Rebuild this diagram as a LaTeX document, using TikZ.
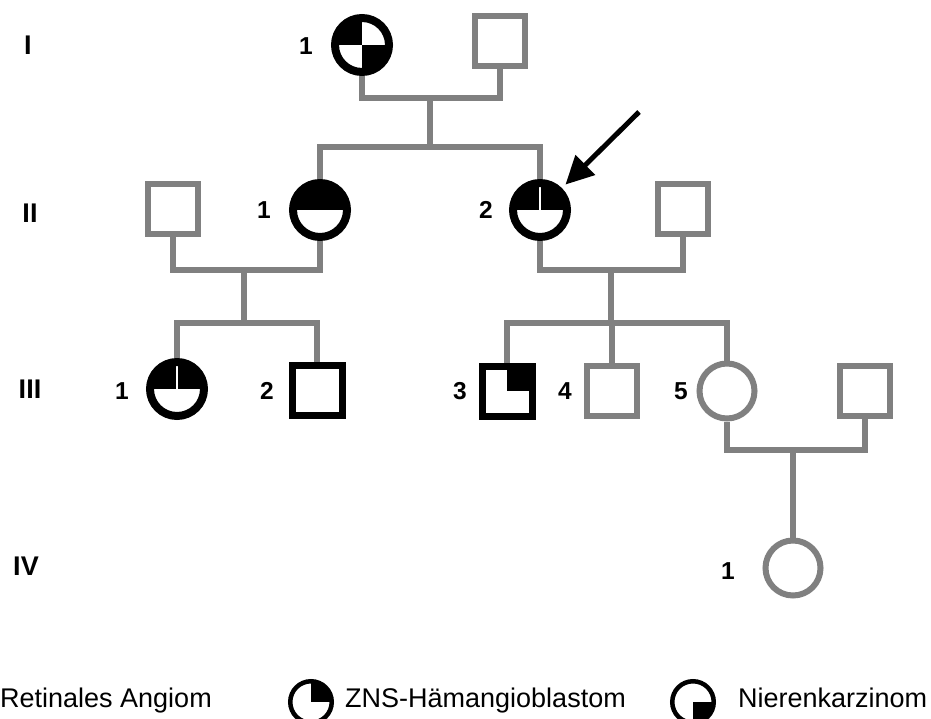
\documentclass[tikz,border=0pt]{standalone}
\usepackage{fontspec}
\setmainfont{Liberation Sans}
\usetikzlibrary{arrows.meta}
\definecolor{lgray}{RGB}{128,128,128}
\begin{document}
\begin{tikzpicture}[x=1pt,y=-1pt,
  conn/.style={draw=lgray, line width=6pt},
  gsq/.style={rectangle, draw=lgray, line width=6pt, minimum size=50pt, inner sep=0pt},
  gci/.style={circle, draw=lgray, line width=6pt, minimum size=55pt, inner sep=0pt},
  bsq/.style={rectangle, draw=black, line width=7pt, minimum size=50pt, inner sep=0pt},
  bci/.style={circle, draw=black, line width=8pt, minimum size=54pt, inner sep=0pt},
  lci/.style={circle, draw=black, line width=4.5pt, minimum size=41.5pt, inner sep=0pt},
  qtlbr/.style={path picture={
     \fill[black] (path picture bounding box.north west) rectangle (path picture bounding box.center);
     \fill[black] (path picture bounding box.center) rectangle (path picture bounding box.south east);}},
  qtop/.style={path picture={
     \fill[black] (path picture bounding box.north west) rectangle (path picture bounding box.east);}},
  qtopline/.style={path picture={
     \fill[black] (path picture bounding box.north west) rectangle (path picture bounding box.east);
     \draw[white, line width=1.2pt] (path picture bounding box.center) -- (path picture bounding box.north);}},
  qtr/.style={path picture={
     \fill[black] (path picture bounding box.north east) rectangle (path picture bounding box.center);}},
  qbr/.style={path picture={
     \fill[black] (path picture bounding box.center) rectangle (path picture bounding box.south east);}},
  gen/.style={font=\bfseries\fontsize{27}{27}\selectfont, inner sep=0pt},
  num/.style={font=\bfseries\fontsize{24.5}{24.5}\selectfont, inner sep=0pt},
  legtxt/.style={font=\fontsize{27}{27}\selectfont, inner sep=0pt},
  proband/.style={draw=black, line width=5pt, -{Triangle[length=28pt,width=27pt]}, shorten >=5pt}
]
\useasboundingbox (0,0) rectangle (931,719);
\clip (0,0) rectangle (931,719);

% generation labels
\node[gen] (gI) at (28,45) {I};
\node[gen] (gII) at (30,213) {II};
\node[gen] (gIII) at (30,389) {III};
\node[gen] (gIV) at (26,566) {IV};

% generation I
\node[bci, qtlbr] (i1) at (362,45) {};
\node[gsq] (i2) at (500,41) {};
\node[num] (n-i1) at (306,46) {1};

% generation II
\node[gsq] (ii0) at (173,209) {};
\node[bci, qtop] (ii1) at (320,210) {};
\node[bci, qtopline] (ii2) at (540,210) {};
\node[gsq] (ii3) at (683,209) {};
\node[num] (n-ii1) at (264,210) {1};
\node[num] (n-ii2) at (486,210) {2};

% generation III
\node[bci, qtopline] (iii1) at (177,389) {};
\node[bsq] (iii2) at (317,390) {};
\node[bsq, qtr] (iii3) at (507,391) {};
\node[gsq] (iii4) at (612,391) {};
\node[gci] (iii5) at (727,391) {};
\node[gsq] (iii6) at (865,391) {};
\node[num] (n-iii1) at (122,391) {1};
\node[num] (n-iii2) at (267,391) {2};
\node[num] (n-iii3) at (460,391) {3};
\node[num] (n-iii4) at (565,391) {4};
\node[num] (n-iii5) at (681,391) {5};

% generation IV
\node[gci] (iv1) at (793,568) {};
\node[num] (n-iv1) at (728,571) {1};

% junction points
\coordinate (m1) at (430,98);
\coordinate (s1) at (430,147);
\coordinate (m2) at (244,270);
\coordinate (s2) at (244,323);
\coordinate (m3) at (611,270);
\coordinate (s3) at (611,323);
\coordinate (m4) at (793,450);

% connectors
\draw[conn] (i1.south) |- (m1) -| (i2.south);
\draw[conn] (m1) -- (s1);
\draw[conn] (ii1.north) |- (s1) -| (ii2.north);
\draw[conn] (ii0.south) |- (m2) -| (ii1.south);
\draw[conn] (m2) -- (s2);
\draw[conn] (iii1.north) |- (s2) -| (iii2.north);
\draw[conn] (ii2.south) |- (m3) -| (ii3.south);
\draw[conn] (m3) -- (s3);
\draw[conn] (iii3.north) |- (s3) -| (iii5.north);
\draw[conn] (iii4.north |- s3) -- (iii4.north);
\draw[conn] (iii5.south) |- (m4) -| (iii6.south);
\draw[conn] (m4) -- (iv1.north);

% proband arrow
\coordinate (arr) at (639,112);
\draw[proband] (arr) -- (ii2.45);

% legend
\node[legtxt, anchor=base west] (t1) at (0,707) {Retinales Angiom};
\node[lci, qtr] (k1) at (311,702) {};
\node[legtxt, anchor=base west] (t2) at (345,707) {ZNS-Hämangioblastom};
\node[lci, qbr] (k2) at (693,702) {};
\node[legtxt, anchor=base west] (t3) at (738,707) {Nierenkarzinom};
\end{tikzpicture}
\end{document}
